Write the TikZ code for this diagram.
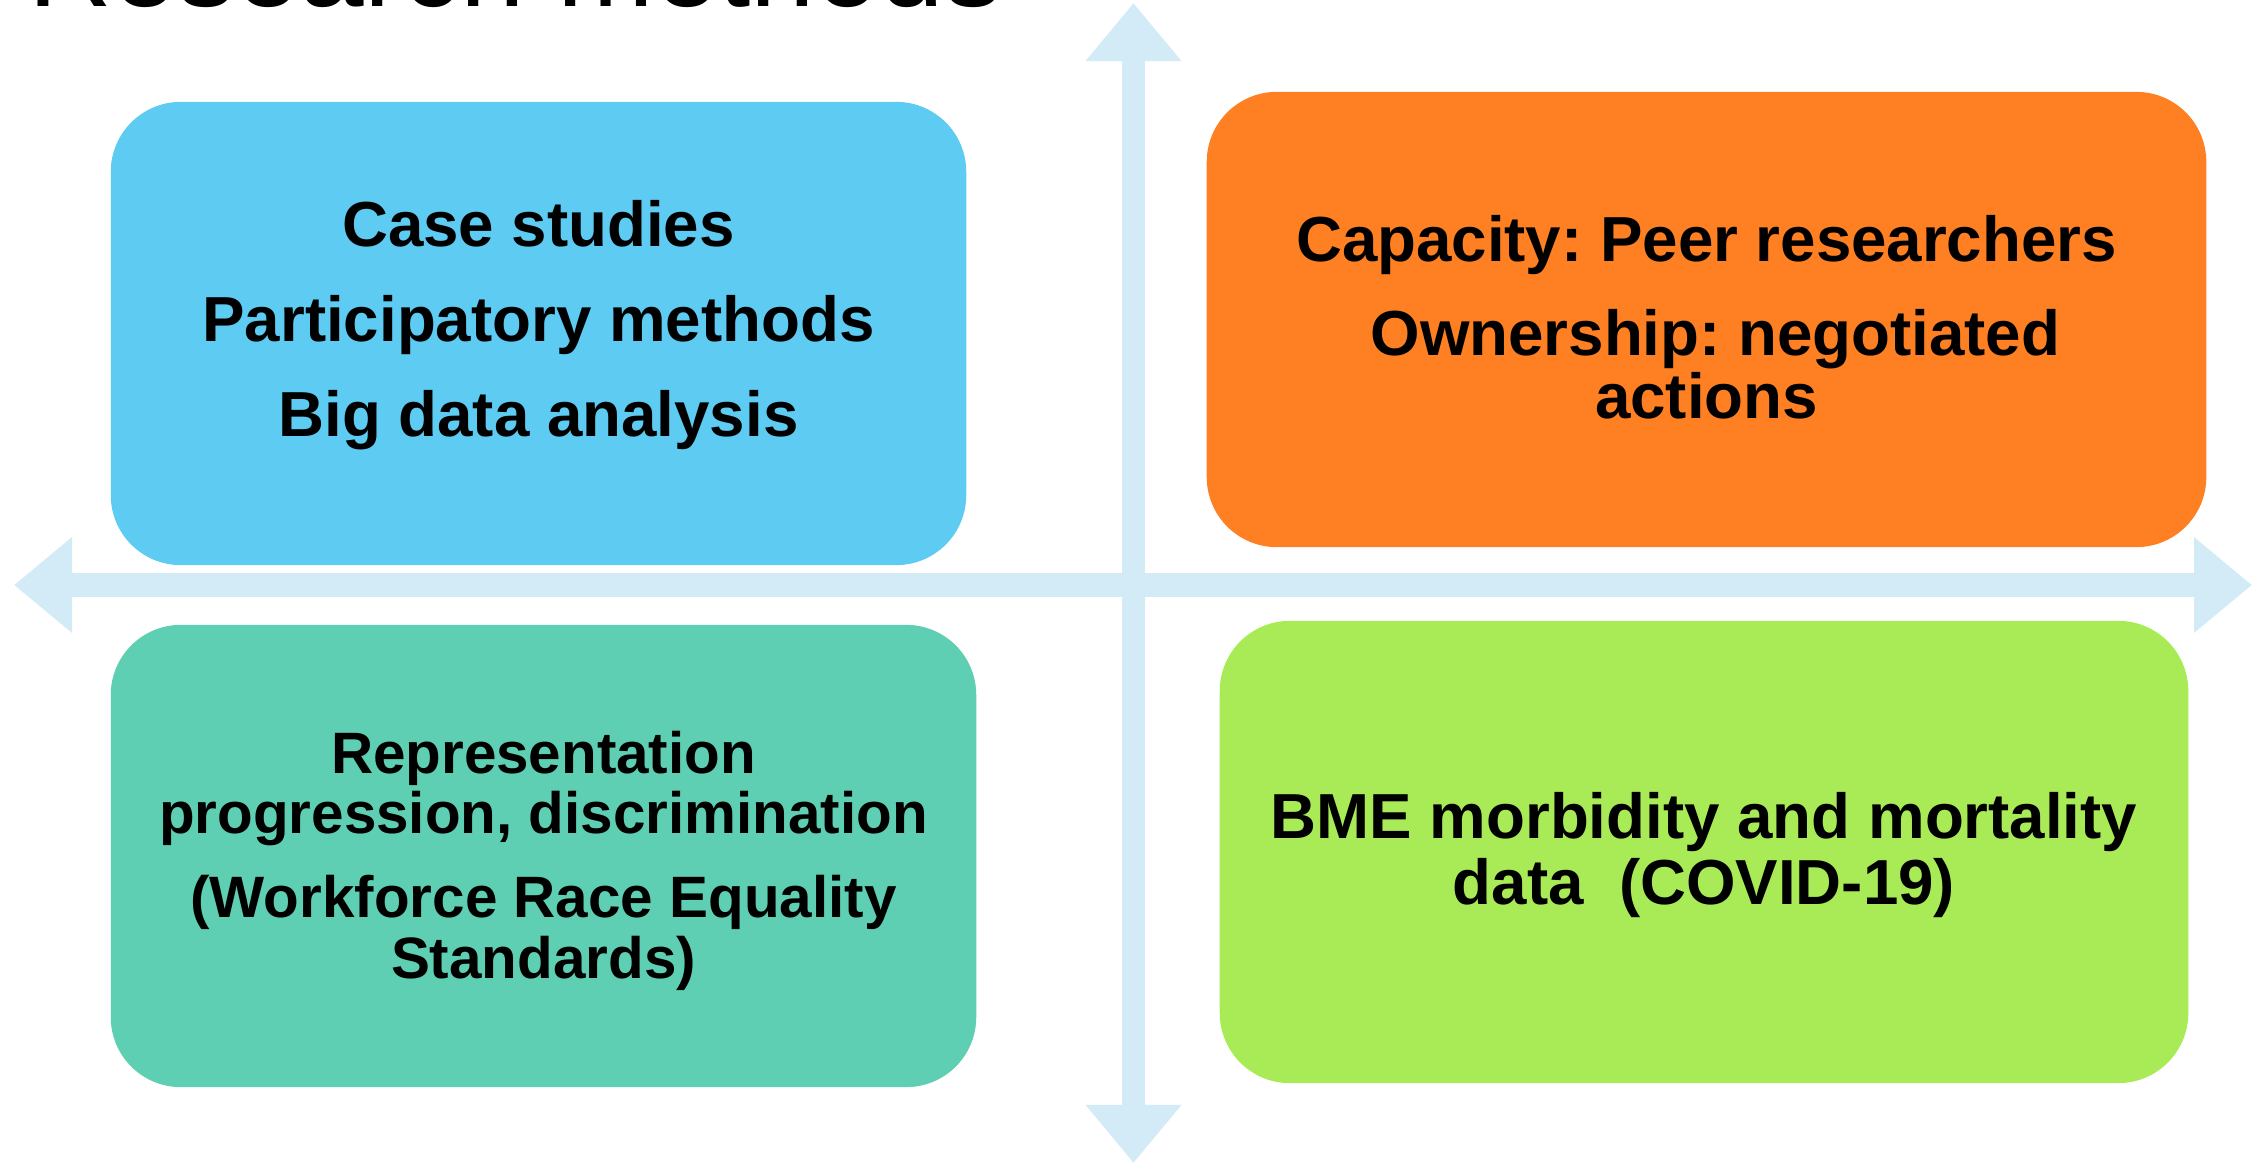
\documentclass[tikz,border=0pt]{standalone}
\usepackage{fontspec}
\setmainfont{Liberation Sans}
\usetikzlibrary{arrows.meta}
\frenchspacing

\definecolor{axisblue}{RGB}{211,234,247}
\definecolor{caseblue}{RGB}{93,203,242}
\definecolor{peerorange}{RGB}{254,128,34}
\definecolor{wresteal}{RGB}{94,207,178}
\definecolor{bmegreen}{RGB}{169,235,86}

% fixed top and bottom of a text block
\newcommand{\lntop}{\rule{0pt}{0.75em}}
\newcommand{\lnbot}{\rule[-0.22em]{0pt}{0.22em}}

\begin{document}
\begin{tikzpicture}[x=0.01cm,y=-0.01cm,
   quad/.style={rectangle,rounded corners=0.7cm,inner sep=0pt,draw=none},
   quadtext/.style={align=center,inner sep=0pt,font=\bfseries\fontsize{18.1}{18.1}\selectfont},
   axisarrow/.style={draw=axisblue,fill=axisblue,line width=0.23cm,
      {Triangle[width=0.92cm,length=0.58cm]}-{Triangle[width=0.92cm,length=0.58cm]}}]
   \useasboundingbox (0,0) rectangle (2264,1164);

   % axes
   \coordinate (vtop) at (1133.5,3);
   \coordinate (vbot) at (1133.5,1163);
   \coordinate (hleft) at (14,585);
   \coordinate (hright) at (2252,585);
   \draw[axisarrow] (vbot) -- (vtop);
   \draw[axisarrow] (hleft) -- (hright);

   % title, mostly above the page
   \node[anchor=base west,inner sep=0pt,font=\fontsize{33}{33}\selectfont] (title) at (28,7) {Research methods};

   % quadrants
   \node[quad,fill=caseblue,minimum width=8.55cm,minimum height=4.63cm] (methods) at (538.5,333.5) {};
   \node[quad,fill=peerorange,minimum width=9.99cm,minimum height=4.55cm] (capacity) at (1706.5,319.5) {};
   \node[quad,fill=wresteal,minimum width=8.65cm,minimum height=4.62cm] (wres) at (543.5,856) {};
   \node[quad,fill=bmegreen,minimum width=9.68cm,minimum height=4.62cm] (bme) at (1704,852) {};

   \node[quadtext] (methodstxt) at (538.5,324.2) {\lntop Case studies\\[8.9pt] Participatory methods\\[8.9pt] Big data analysis\lnbot};
   \node[quadtext] (capacitytxt) at (1706.5,323.2) {\lntop Capacity: Peer researchers\\[8.6pt] \hspace*{0.28em}Ownership: negotiated\\ actions\lnbot};
   \node[quadtext,font=\bfseries\fontsize{16.6}{17.1}\selectfont] (wrestxt) at (543.5,860.4) {\lntop Representation\\ progression, discrimination\\[6.8pt] (Workforce Race Equality\\ Standards)\lnbot};
   \node[quadtext,font=\bfseries\fontsize{18.1}{18.8}\selectfont] (bmetxt) at (1704,854.2) {\lntop BME morbidity and mortality\\ data~~(COVID-19)\lnbot};
\end{tikzpicture}
\end{document}
